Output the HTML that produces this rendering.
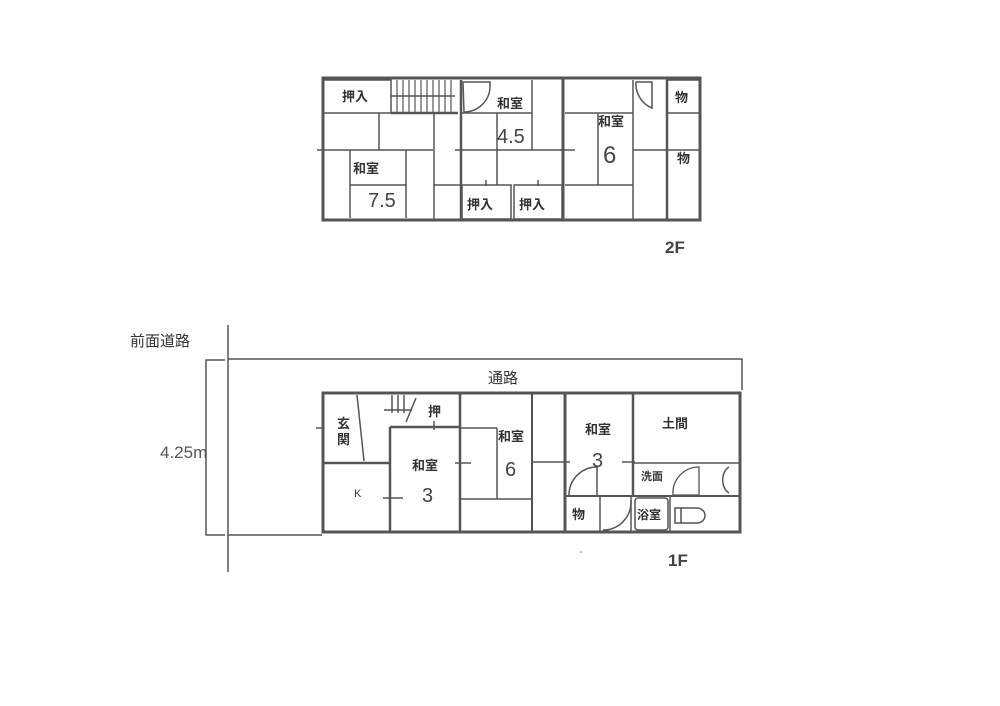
<!DOCTYPE html>
<html><head><meta charset="utf-8"><style>
html,body{margin:0;padding:0;background:#fff;width:1000px;height:706px;overflow:hidden}
svg{display:block}
text{font-family:"Liberation Sans","Noto Sans CJK JP",sans-serif;fill:#333}
.j{font-size:13px;font-weight:bold}
.n{font-size:20px;fill:#444}
</style></head><body>
<svg width="1000" height="706" viewBox="0 0 1000 706">
<g stroke="#555" fill="none" stroke-width="1.5">
<!-- 2F -->
<rect x="323" y="78" width="377" height="142" stroke-width="3"/>
<rect x="323" y="80" width="68" height="33"/>
<g stroke-width="1.2">
<line x1="397" y1="80" x2="397" y2="113"/><line x1="403" y1="80" x2="403" y2="113"/><line x1="409" y1="80" x2="409" y2="113"/><line x1="415" y1="80" x2="415" y2="113"/><line x1="421" y1="80" x2="421" y2="113"/><line x1="427" y1="80" x2="427" y2="113"/><line x1="433" y1="80" x2="433" y2="113"/><line x1="439" y1="80" x2="439" y2="113"/><line x1="445" y1="80" x2="445" y2="113"/><line x1="451" y1="80" x2="451" y2="113"/>
</g>
<line x1="391" y1="113" x2="458" y2="113" stroke-width="2.5"/>
<line x1="391" y1="96" x2="455" y2="96"/>
<line x1="379" y1="113" x2="379" y2="150"/>
<line x1="317" y1="150" x2="433" y2="150"/>
<line x1="350" y1="150" x2="350" y2="218"/>
<line x1="406" y1="150" x2="406" y2="218"/>
<line x1="350" y1="185" x2="406" y2="185"/>
<line x1="434" y1="113" x2="434" y2="220"/>
<line x1="434" y1="185" x2="460" y2="185"/>
<line x1="461" y1="80" x2="461" y2="220" stroke-width="2.5"/>
<path d="M463 82 H490 V88 A26 26 0 0 1 464 112 Z"/>
<line x1="461" y1="113" x2="532" y2="113"/>
<line x1="455" y1="150" x2="563" y2="150"/>
<line x1="497" y1="113" x2="497" y2="185"/>
<line x1="532" y1="80" x2="532" y2="150"/>
<rect x="462" y="185" width="49" height="34"/>
<rect x="514" y="185" width="48" height="34"/>
<line x1="486" y1="180" x2="486" y2="186"/><line x1="538" y1="180" x2="538" y2="186"/>
<line x1="563" y1="78" x2="563" y2="220" stroke-width="3"/>
<line x1="565" y1="113" x2="633" y2="113"/>
<line x1="598" y1="113" x2="598" y2="185"/>
<line x1="565" y1="185" x2="633" y2="185"/>
<line x1="560" y1="150" x2="575" y2="150"/>
<line x1="633" y1="80" x2="633" y2="220"/>
<path d="M636 82 H652 V108 A26 26 0 0 1 636 82 Z"/>
<line x1="633" y1="150" x2="666" y2="150"/>
<line x1="667" y1="80" x2="667" y2="220" stroke-width="2.5"/>
<rect x="667" y="80" width="33" height="33"/>
<line x1="667" y1="150" x2="700" y2="150"/>
<!-- 1F -->
<line x1="228" y1="325" x2="228" y2="572"/>
<path d="M225 360 H206 V535 H225"/>
<path d="M228 359 H742 V390"/>
<line x1="228" y1="535" x2="322" y2="535"/>
<rect x="323" y="393" width="417" height="139" stroke-width="3"/>
<line x1="323" y1="463" x2="390" y2="463" stroke-width="2.5"/>
<line x1="357" y1="395" x2="364" y2="461"/>
<line x1="316" y1="428" x2="323" y2="428"/>
<line x1="390" y1="427" x2="390" y2="532" stroke-width="2.5"/>
<line x1="390" y1="427" x2="460" y2="427" stroke-width="2.5"/>
<line x1="392" y1="395" x2="392" y2="413"/><line x1="398" y1="395" x2="398" y2="413"/><line x1="404" y1="395" x2="404" y2="413"/>
<line x1="384" y1="410" x2="412" y2="410"/>
<line x1="406" y1="422" x2="416" y2="398"/>
<line x1="434" y1="421" x2="434" y2="430"/>
<line x1="460" y1="393" x2="460" y2="532" stroke-width="2.5"/>
<line x1="383" y1="498" x2="403" y2="498"/>
<line x1="455" y1="463" x2="471" y2="463"/>
<line x1="460" y1="428" x2="497" y2="428"/>
<line x1="497" y1="428" x2="497" y2="499"/>
<line x1="460" y1="499" x2="532" y2="499"/>
<line x1="532" y1="393" x2="532" y2="532" stroke-width="2"/>
<line x1="532" y1="462" x2="570" y2="462"/>
<line x1="565" y1="393" x2="565" y2="532" stroke-width="3"/>
<path d="M569 495 A28 28 0 0 1 597 467 V495"/>
<line x1="622" y1="462" x2="635" y2="462"/>
<line x1="633" y1="393" x2="633" y2="496" stroke-width="2.5"/>
<line x1="633" y1="463" x2="740" y2="463"/>
<line x1="565" y1="496" x2="740" y2="496" stroke-width="2"/>
<line x1="600" y1="496" x2="600" y2="532"/>
<path d="M603 530 A28 28 0 0 0 631 500"/>
<line x1="631" y1="496" x2="631" y2="532"/>
<rect x="635" y="498" width="33" height="32" rx="3"/>
<line x1="670" y1="496" x2="670" y2="532"/>
<rect x="675" y="508" width="6" height="15"/>
<path d="M681 508 H697 A8 7.5 0 0 1 697 523 H681"/>
<path d="M673 495 A26 26 0 0 1 699 467 V495 Z" stroke-width="1.3"/>
<path d="M729 467 A10 14 0 0 0 729 493"/>
</g>
<g>
<text class="j" x="342" y="101">押入</text>
<text class="j" x="497" y="108">和室</text>
<text class="j" x="353" y="173">和室</text>
<text class="n" x="368" y="207">7.5</text>
<text class="n" x="497" y="143">4.5</text>
<text class="j" x="598" y="126">和室</text>
<text class="n" x="603" y="163" style="font-size:24px">6</text>
<text class="j" x="675" y="102">物</text>
<text class="j" x="677" y="163">物</text>
<text class="j" x="467" y="209">押入</text>
<text class="j" x="519" y="209">押入</text>
<text x="665" y="253" style="font-size:17px;font-weight:bold;fill:#444">2F</text>
<text x="130" y="346" style="font-size:15px">前面道路</text>
<text x="160" y="458" style="font-size:17px;fill:#555">4.25m</text>
<text x="488" y="383" style="font-size:15px">通路</text>
<text class="j" x="337" y="428">玄</text><text class="j" x="337" y="444">関</text>
<text class="j" x="428" y="416">押</text>
<text class="j" x="412" y="470">和室</text>
<text class="n" x="422" y="502">3</text>
<text x="354" y="497" style="font-size:11px">K</text>
<text class="j" x="498" y="441">和室</text>
<text class="n" x="505" y="476">6</text>
<text class="j" x="585" y="434">和室</text>
<text class="n" x="592" y="467">3</text>
<text class="j" x="662" y="428">土間</text>
<text class="j" x="641" y="480" style="font-size:11px">洗面</text>
<text class="j" x="572" y="519">物</text>
<text class="j" x="637" y="519" style="font-size:12px">浴室</text>
<text x="668" y="566" style="font-size:17px;font-weight:bold;fill:#444">1F</text>
<circle cx="581" cy="552" r="0.8" fill="#777"/>
</g>
</svg>
</body></html>
